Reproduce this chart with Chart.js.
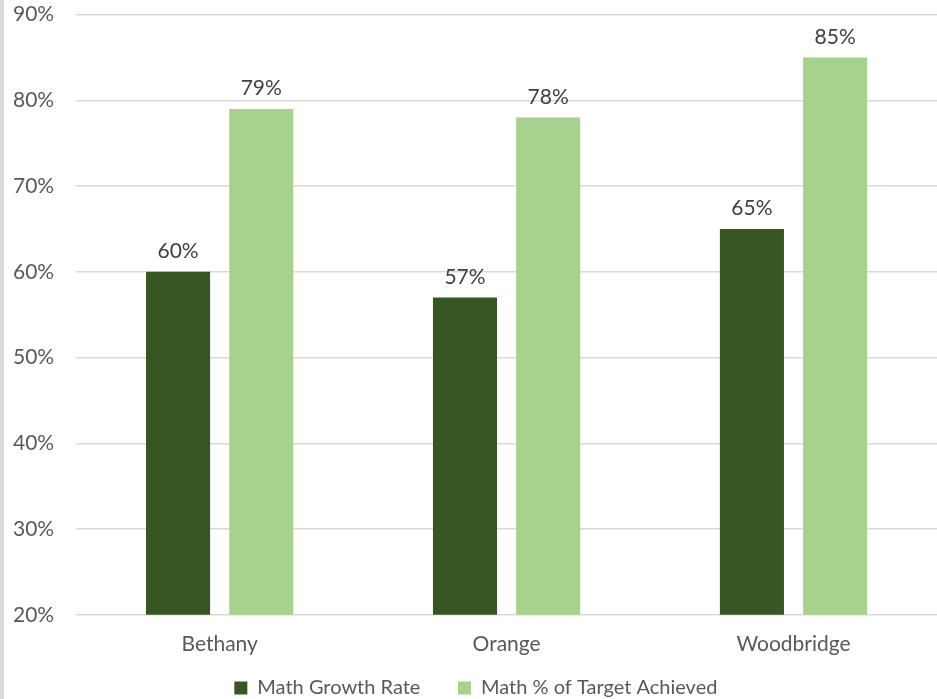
<!DOCTYPE html>
<html>
<head>
<meta charset="utf-8">
<script src="https://cdn.jsdelivr.net/npm/chart.js@4.4.1/dist/chart.umd.min.js"></script>
<style>
  html, body { margin: 0; padding: 0; background: #fff; overflow: hidden; }
  #frame { width: 933px; height: 699px; border-left: 4px solid #d9d9d9; overflow: hidden; position: relative; }
  #wrap { position: absolute; left: 0; top: -20px; width: 933px; height: 719px; }
</style>
</head>
<body>
<div id="frame"><div id="wrap"><canvas id="chart"></canvas></div></div>
<script>
// schools and their math numbers (percent)
const schools = ["Bethany", "Orange", "Woodbridge"];
const growthRate = [60, 57, 65];
const targetAchieved = [79, 78, 85];
const yTicks = [20, 30, 40, 50, 60, 70, 80, 90];

const FONT = "Lato, 'Open Sans', sans-serif";
const NBSP = "\u00a0";

// draws "60%" etc above each bar
const barLabels = {
  id: "barLabels",
  afterDatasetsDraw(chart){
    const ctx = chart.ctx;
    ctx.save();
    ctx.font = "21px " + FONT;
    ctx.fillStyle = "#404040";
    ctx.textAlign = "center";
    ctx.textBaseline = "bottom";
    chart.data.datasets.forEach((ds, i)=>{
      chart.getDatasetMeta(i).data.forEach((bar, j)=>{
        ctx.fillText(ds.data[j] + "%", bar.x, bar.y - 10);
      });
    });
    ctx.restore();
  }
};

const chart = new Chart(document.getElementById("chart"), {
  type: "bar",
  data: {
    labels: schools,
    datasets: [
      { label: "Math Growth Rate", data: growthRate, backgroundColor: "#375623" },
      { label: "Math % of Target Achieved", data: targetAchieved, backgroundColor: "#a9d18e" }
    ]
  },
  options: {
    responsive: true,
    maintainAspectRatio: false,
    animation: false,
    categoryPercentage: 0.58,
    barPercentage: 0.77,
    layout: { padding: { left: -13, right: 0, top: 0, bottom: -9 } },
    plugins: {
      legend: {
        position: "bottom",
        fullSize: false,
        labels: {
          color: "#595959",
          font: { family: FONT, size: 20 },
          boxWidth: 13, boxHeight: 13,
          padding: 12,
          // wider gap between the two entries, and nudge the block left
          generateLabels(c){
            const items = Chart.defaults.plugins.legend.labels.generateLabels(c);
            items[0].text += NBSP.repeat(5);
            items[1].text += NBSP.repeat(12);
            return items;
          }
        }
      },
      tooltip: { enabled: false }
    },
    scales: {
      x: {
        grid: { display: false },
        border: { display: false },
        ticks: { color: "#595959", font: { family: FONT, size: 21 }, padding: 9 }
      },
      y: {
        min: 20, max: 90,
        afterBuildTicks(axis){ axis.ticks = yTicks.map(v=>({value: v})); },
        grid: { color: "#d9d9d9", lineWidth: 1.5, drawTicks: false },
        border: { display: false },
        ticks: { color: "#595959", font: { family: FONT, size: 21 }, padding: 22, callback: v => v + "%" }
      }
    }
  },
  plugins: [barLabels]
});
</script>
</body>
</html>
